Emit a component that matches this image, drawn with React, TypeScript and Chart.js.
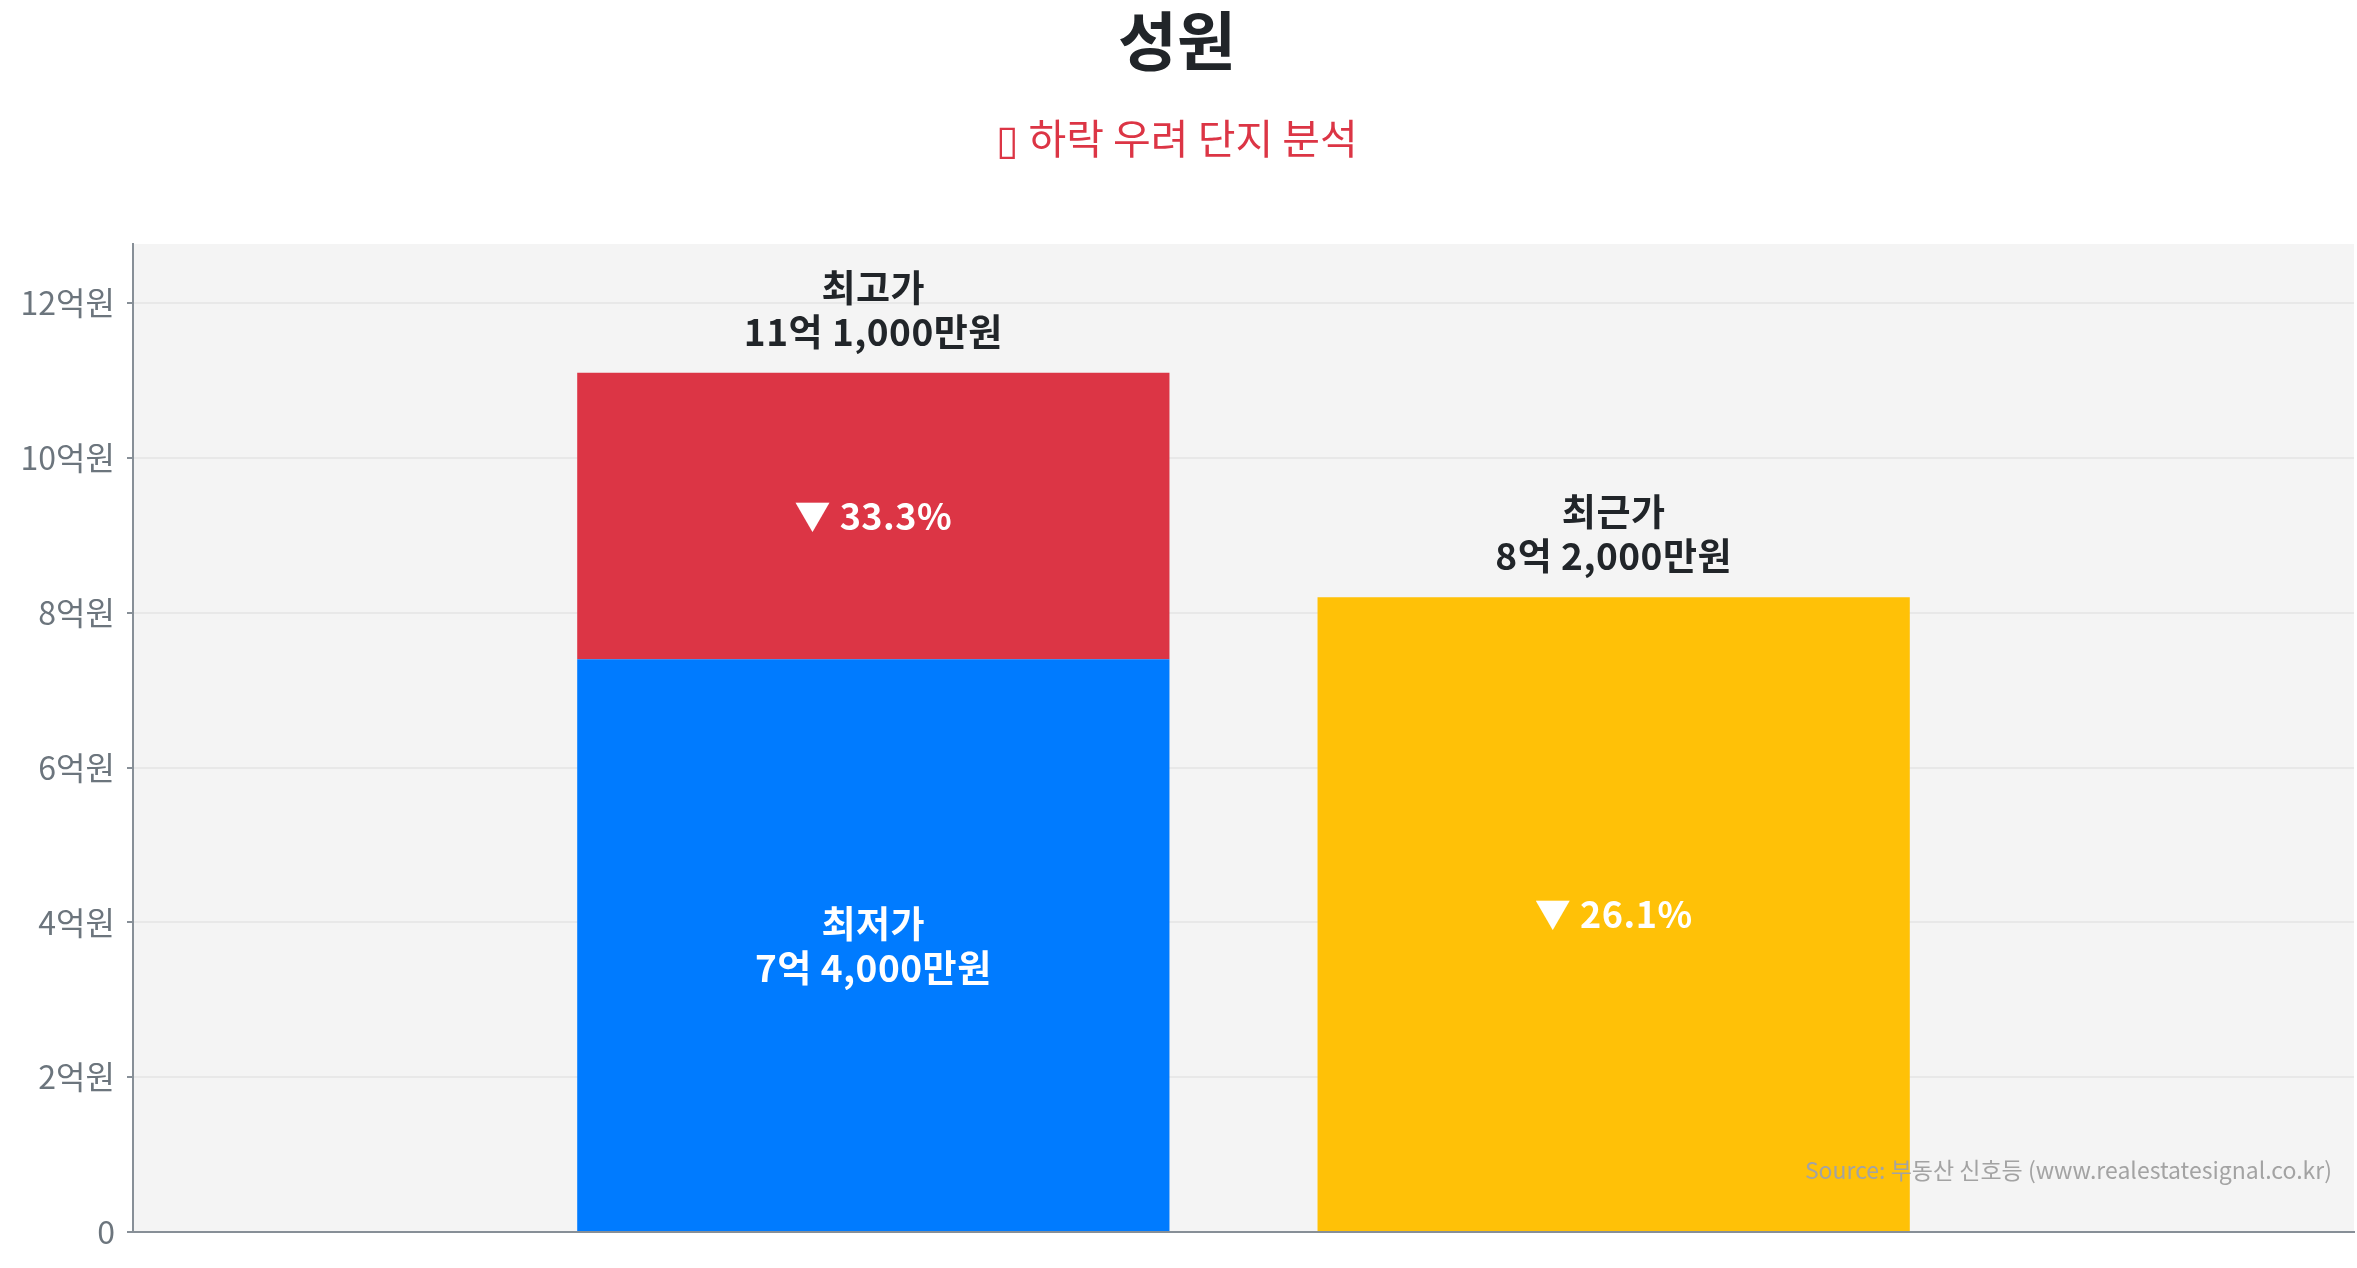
import React, { useEffect, useRef } from 'react';
import { Chart, registerables } from 'chart.js';

Chart.register(...registerables);

// 값 단위: 억원
const CATEGORIES = ['', '최고/최저', '최근', ''];
const HIGH = [null, 11.1, null, null];
const LOW = [null, 7.4, null, null];
const RECENT = [null, null, 8.2, null];
const Y_STEP = 2;

const FONT = "'Noto Sans CJK KR', 'Noto Sans', sans-serif";
const BLUE = '#007bff';
const RED = '#dc3545';
const YELLOW = '#ffc107';
const DARK = '#212529';

const DROP = HIGH.map((h, i) => (h == null || LOW[i] == null ? null : +(h - (LOW[i] as number)).toFixed(2)));
const HIGH_VAL = HIGH[1] as number;
const LOW_VAL = LOW[1] as number;
const RECENT_VAL = RECENT[2] as number;

function won(v: number) {
  const eok = Math.floor(v);
  const man = Math.round((v - eok) * 10000);
  return man ? `${eok}억 ${man.toLocaleString('en-US')}만원` : `${eok}억원`;
}

const pct = (from: number, to: number) => `▼ ${(((from - to) / from) * 100).toFixed(1)}%`;

const plotBg = {
  id: 'plotBg',
  beforeDraw(chart: Chart) {
    const { ctx, chartArea: a } = chart;
    ctx.save();
    ctx.fillStyle = '#f4f4f4';
    ctx.fillRect(a.left, a.top, a.right - a.left, a.bottom - a.top);
    ctx.restore();
  },
};

function lines(ctx: CanvasRenderingContext2D, txt: string[], x: number, cy: number, gap: number) {
  const off = ((txt.length - 1) * gap) / 2;
  txt.forEach((t, i) => ctx.fillText(t, x, cy - off + i * gap));
}

const barLabels = {
  id: 'barLabels',
  afterDatasetsDraw(chart: Chart) {
    const { ctx, scales } = chart;
    const x = scales.x, y = scales.y;
    const x1 = x.getPixelForValue(1), x2 = x.getPixelForValue(2);
    const y0 = y.getPixelForValue(0);
    const yHigh = y.getPixelForValue(HIGH_VAL);
    const yLow = y.getPixelForValue(LOW_VAL);
    const yRecent = y.getPixelForValue(RECENT_VAL);
    ctx.save();
    ctx.textAlign = 'center';
    ctx.textBaseline = 'middle';
    ctx.font = `bold 37px ${FONT}`;
    (ctx as any).letterSpacing = '0.5px';
    ctx.fillStyle = DARK;
    lines(ctx, ['최고가', won(HIGH_VAL)], x1, yHigh - 63, 44);
    lines(ctx, ['최근가', won(RECENT_VAL)], x2, yRecent - 63, 44);
    ctx.fillStyle = '#fff';
    lines(ctx, ['최저가', won(LOW_VAL)], x1, (yLow + y0) / 2, 44);
    ctx.font = `bold 36px ${FONT}`;
    ctx.fillText(pct(HIGH_VAL, LOW_VAL), x1, (yHigh + yLow) / 2);
    ctx.fillText(pct(HIGH_VAL, RECENT_VAL), x2, (yRecent + y0) / 2);
    ctx.restore();
  },
  afterDraw(chart: Chart) {
    const { ctx, chartArea: a } = chart;
    ctx.save();
    ctx.font = `23px ${FONT}`;
    ctx.fillStyle = '#a3a3a3';
    ctx.textAlign = 'right';
    ctx.textBaseline = 'middle';
    ctx.fillText('Source: 부동산 신호등 (www.realestatesignal.co.kr)', a.right - 22, a.bottom - 62);
    ctx.restore();
  },
};

export default function App() {
  const ref = useRef<HTMLCanvasElement>(null);

  useEffect(() => {
    if (!ref.current) return;
    const chart = new Chart(ref.current, {
      type: 'bar',
      data: {
        labels: CATEGORIES,
        datasets: [
          { label: '최저가', data: LOW, backgroundColor: BLUE },
          { label: '하락폭', data: DROP, backgroundColor: RED },
          { label: '최근가', data: RECENT, backgroundColor: YELLOW },
        ],
      },
      options: {
        responsive: true,
        maintainAspectRatio: false,
        animation: false,
        categoryPercentage: 0.8,
        barPercentage: 1,
        layout: { padding: { left: 0, right: 3, top: 0, bottom: 36 } },
        plugins: {
          legend: { display: false },
          tooltip: { enabled: false },
          title: {
            display: true,
            text: '성원',
            color: DARK,
            font: { size: 64, weight: 'bold', family: FONT },
            padding: { top: 2, bottom: 0 },
          },
          subtitle: {
            display: true,
            text: '▯ 하락 우려 단지 분석',
            color: RED,
            font: { size: 41, family: FONT },
            padding: { top: 35, bottom: 81 },
          },
        },
        scales: {
          x: {
            stacked: true,
            offset: false,
            grid: { display: false },
            ticks: { display: false },
            border: { display: true, color: '#878f97', width: 2 },
            afterFit: (s: any) => { s.height = 0; },
          },
          y: {
            stacked: true,
            min: 0,
            max: HIGH_VAL * 1.15,
            grid: { color: '#e8e8e8', lineWidth: 2, tickColor: '#878f97', tickLength: 6 },
            border: { display: true, color: '#878f97', width: 2 },
            ticks: {
              stepSize: Y_STEP,
              includeBounds: false,
              padding: 12,
              color: '#6c757d',
              font: { size: 32, family: FONT },
              callback: (v: any) => (Number(v) === 0 ? '0' : `${v}억원`),
            },
            afterFit: (s: any) => { s.width = 133; },
          },
        },
      },
      plugins: [plotBg, barLabels],
    });
    return () => chart.destroy();
  }, []);

  return (
    <div style={{ position: 'fixed', left: 0, top: 0, width: 2357, height: 1268, background: '#fff' }}>
      <canvas ref={ref} />
    </div>
  );
}
